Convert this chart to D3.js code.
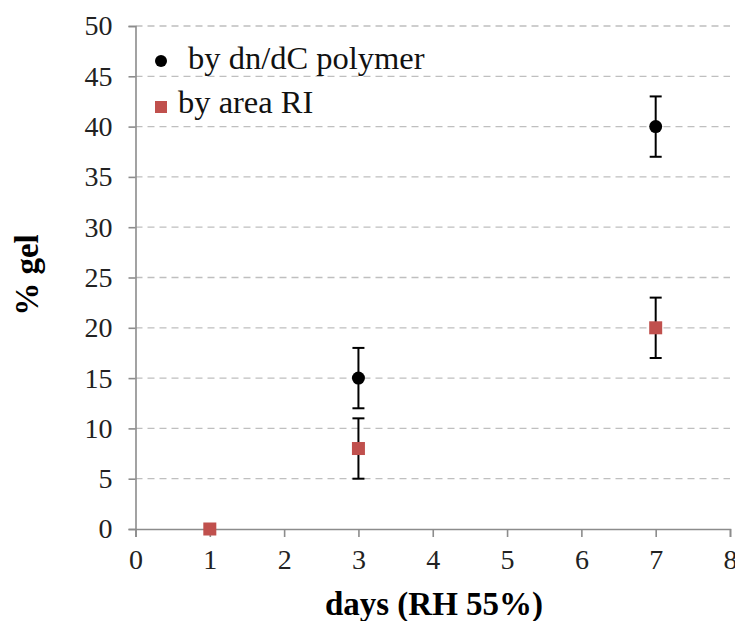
<!DOCTYPE html>
<html><head><meta charset="utf-8">
<script src="https://cdn.jsdelivr.net/npm/d3@7"></script>
<style>body{margin:0;background:#fff}svg{display:block}</style>
</head><body>
<script>
const days1 = [3, 7];
const gelDn = [15, 40];
const errDn = [3, 3];
const days2 = [1, 3, 7];
const gelArea = [0, 8, 20];
const errArea = [0, 3, 3];
const xTicks = [0,1,2,3,4,5,6,7,8];
const yTicks = [0,5,10,15,20,25,30,35,40,45,50];
const legendLabels = ["by dn/dC polymer", "by area RI"];

const W = 735, H = 621;
const svg = d3.select("body").append("svg").attr("width", W).attr("height", H);
const x = d3.scaleLinear().domain([0, 8]).range([135.5, 730]);
const y = d3.scaleLinear().domain([0, 50]).range([529, 26]);
const font = "'Liberation Serif','Times New Roman',serif";
const axisCol = "#8c8c8c";

// grid
svg.append("g").selectAll("line").data(yTicks.filter(d => d > 0)).join("line")
  .attr("x1", x(0)).attr("x2", x(8)).attr("y1", d => y(d)).attr("y2", d => y(d))
  .attr("stroke", "#bfbfbf").attr("stroke-width", 1.3).attr("stroke-dasharray", "7,5");

// y axis
const ya = svg.append("g").attr("transform", `translate(${x(0)},0)`)
  .call(d3.axisLeft(y).tickValues(yTicks).tickSize(7).tickPadding(16));
ya.select(".domain").attr("stroke", axisCol).attr("stroke-width", 1.6);
ya.selectAll(".tick line").attr("stroke", axisCol).attr("stroke-width", 1.6);
ya.selectAll("text").attr("font-family", font).attr("font-size", 28).attr("fill", "#222");

// x axis
const xa = svg.append("g").attr("transform", `translate(0,${y(0)})`)
  .call(d3.axisBottom(x).tickValues(xTicks).tickSize(8).tickPadding(12));
xa.select(".domain").attr("stroke", axisCol).attr("stroke-width", 1.6);
xa.selectAll(".tick line").attr("stroke", axisCol).attr("stroke-width", 1.6);
xa.selectAll("text").attr("font-family", font).attr("font-size", 28).attr("fill", "#222");

// error bars
function errBars(xs, vs, es) {
  const g = svg.append("g").attr("stroke", "#000").attr("stroke-width", 2);
  xs.forEach((d, i) => {
    if (es[i] <= 0) return;
    const cx = x(d), y1 = y(vs[i] + es[i]), y2 = y(vs[i] - es[i]);
    g.append("line").attr("x1", cx).attr("x2", cx).attr("y1", y1).attr("y2", y2);
    g.append("line").attr("x1", cx - 6).attr("x2", cx + 6).attr("y1", y1).attr("y2", y1);
    g.append("line").attr("x1", cx - 6).attr("x2", cx + 6).attr("y1", y2).attr("y2", y2);
  });
}
errBars(days1, gelDn, errDn);
errBars(days2, gelArea, errArea);

const red = "#c0504d";
svg.append("g").selectAll("circle").data(days1).join("circle")
  .attr("cx", d => x(d)).attr("cy", (d, i) => y(gelDn[i])).attr("r", 6.5).attr("fill", "#000");
svg.append("g").selectAll("rect").data(days2).join("rect")
  .attr("x", d => x(d) - 6.5).attr("y", (d, i) => y(gelArea[i]) - 6.5)
  .attr("width", 13).attr("height", 13).attr("fill", red);

// legend
svg.append("circle").attr("cx", 161).attr("cy", 61).attr("r", 6).attr("fill", "#000");
svg.append("text").attr("x", 188).attr("y", 69).text(legendLabels[0])
  .attr("font-family", font).attr("font-size", 32.5).attr("fill", "#111");
svg.append("rect").attr("x", 155).attr("y", 101).attr("width", 12).attr("height", 12).attr("fill", red);
svg.append("text").attr("x", 178).attr("y", 113).text(legendLabels[1])
  .attr("font-family", font).attr("font-size", 32.5).attr("fill", "#111");

// axis titles
svg.append("text").attr("x", 434).attr("y", 615).attr("text-anchor", "middle")
  .attr("font-family", font).attr("font-size", 33).attr("font-weight", "bold").text("days (RH 55%)");
svg.append("text").attr("transform", "translate(38,275) rotate(-90)").attr("text-anchor", "middle")
  .attr("font-family", font).attr("font-size", 33).attr("font-weight", "bold").text("% gel");
</script>
</body></html>
